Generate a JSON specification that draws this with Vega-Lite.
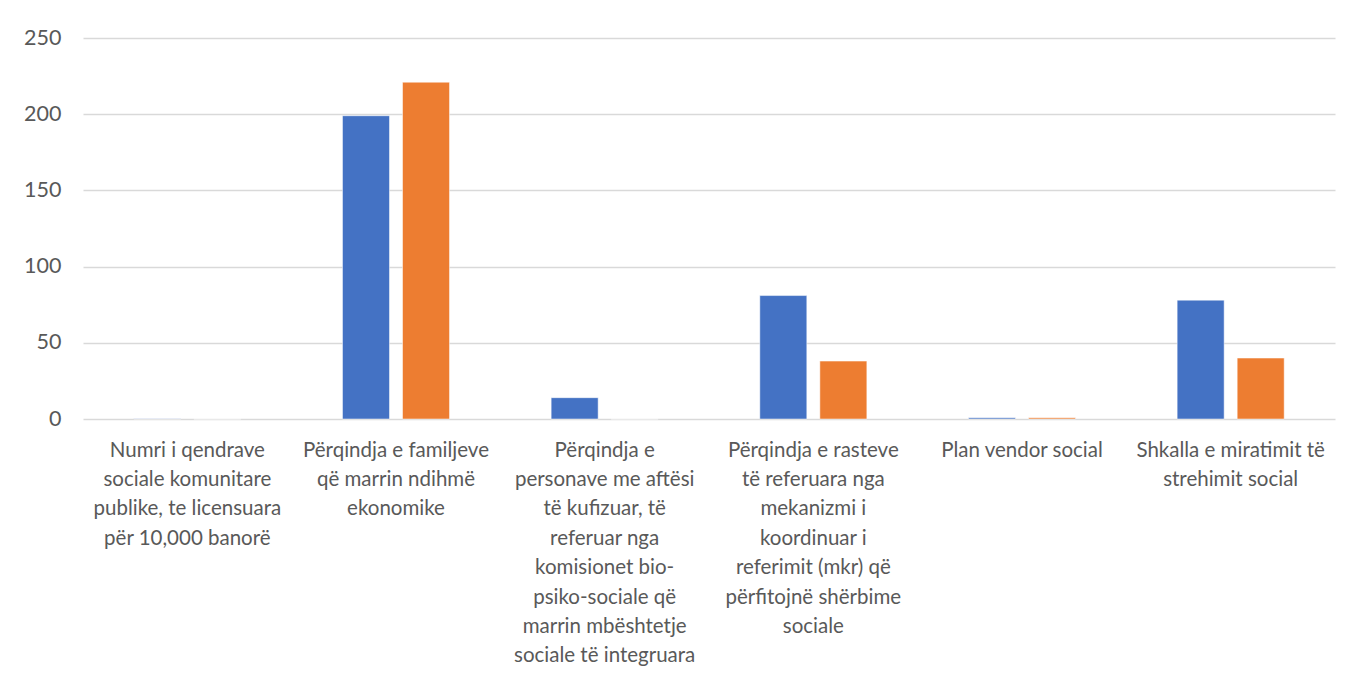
{
  "$schema": "https://vega.github.io/schema/vega-lite/v6.json",
  "autosize": {"type": "none"},
  "width": 1252,
  "height": 381,
  "padding": {"left": 83, "top": 38, "right": 17, "bottom": 259},
  "background": "white",
  "data": {
    "values": [
      {"category": "Numri i qendrave|sociale komunitare|publike, te licensuara|për 10,000 banorë", "series": "A", "value": 0.2},
      {"category": "Numri i qendrave|sociale komunitare|publike, te licensuara|për 10,000 banorë", "series": "B", "value": 0},
      {"category": "Përqindja e familjeve|që marrin ndihmë|ekonomike", "series": "A", "value": 199},
      {"category": "Përqindja e familjeve|që marrin ndihmë|ekonomike", "series": "B", "value": 221},
      {"category": "Përqindja e|personave me aftësi|të kufizuar, të|referuar nga|komisionet bio-|psiko-sociale që|marrin mbështetje|sociale të integruara", "series": "A", "value": 14},
      {"category": "Përqindja e|personave me aftësi|të kufizuar, të|referuar nga|komisionet bio-|psiko-sociale që|marrin mbështetje|sociale të integruara", "series": "B", "value": 0},
      {"category": "Përqindja e rasteve|të referuara nga|mekanizmi i|koordinuar i|referimit (mkr) që|përfitojnë shërbime|sociale", "series": "A", "value": 81},
      {"category": "Përqindja e rasteve|të referuara nga|mekanizmi i|koordinuar i|referimit (mkr) që|përfitojnë shërbime|sociale", "series": "B", "value": 38},
      {"category": "Plan vendor social", "series": "A", "value": 0.8},
      {"category": "Plan vendor social", "series": "B", "value": 0.8},
      {"category": "Shkalla e miratimit të|strehimit social", "series": "A", "value": 78},
      {"category": "Shkalla e miratimit të|strehimit social", "series": "B", "value": 40}
    ]
  },
  "mark": {"type": "bar", "stroke": "white", "strokeWidth": 0.5},
  "encoding": {
    "x": {
      "field": "category",
      "type": "nominal",
      "sort": null,
      "title": null,
      "scale": {"paddingInner": 0.487, "paddingOuter": 0.2435},
      "axis": {
        "labelExpr": "split(datum.label, '|')",
        "labelAngle": 0,
        "labelFont": "Lato",
        "labelFontSize": 20.5,
        "labelColor": "#595959",
        "labelLineHeight": 29.4,
        "labelPadding": 21,
        "labelBaseline": "top",
        "labelLimit": 300,
        "ticks": false,
        "domain": false
      }
    },
    "xOffset": {
      "field": "series",
      "type": "nominal",
      "scale": {"paddingInner": 0.217, "paddingOuter": 0}
    },
    "y": {
      "field": "value",
      "type": "quantitative",
      "title": null,
      "scale": {"domain": [0, 250], "nice": false},
      "axis": {
        "values": [0, 50, 100, 150, 200, 250],
        "labelFont": "Lato",
        "labelFontSize": 21.5,
        "labelColor": "#595959",
        "labelPadding": 22,
        "ticks": false,
        "domain": false,
        "gridColor": "#d9d9d9",
        "gridWidth": 1.5
      }
    },
    "color": {
      "field": "series",
      "type": "nominal",
      "scale": {"domain": ["A", "B"], "range": ["#4472C4", "#ED7D31"]},
      "legend": null
    }
  },
  "config": {"view": {"stroke": null}}
}
